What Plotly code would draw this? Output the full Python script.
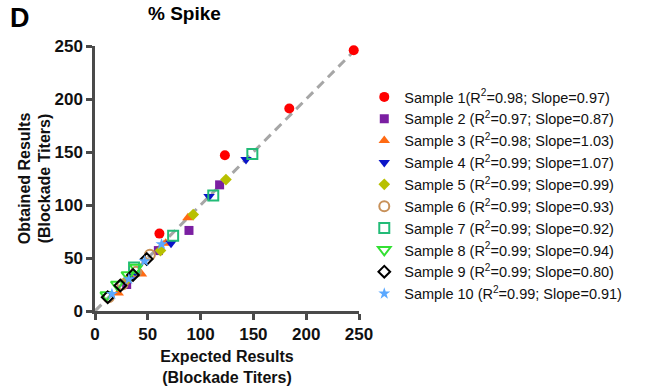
import plotly.graph_objects as go

names = ["Sample 1(R<sup>2</sup>=0.98; Slope=0.97)",
         "Sample 2 (R<sup>2</sup>=0.97; Slope=0.87)",
         "Sample 3 (R<sup>2</sup>=0.98; Slope=1.03)",
         "Sample 4 (R<sup>2</sup>=0.99; Slope=1.07)",
         "Sample 5 (R<sup>2</sup>=0.99; Slope=0.99)",
         "Sample 6 (R<sup>2</sup>=0.99; Slope=0.93)",
         "Sample 7 (R<sup>2</sup>=0.99; Slope=0.92)",
         "Sample 8 (R<sup>2</sup>=0.99; Slope=0.94)",
         "Sample 9 (R<sup>2</sup>=0.99; Slope=0.80)",
         "Sample 10 (R<sup>2</sup>=0.99; Slope=0.91)"]

s1_x = [245, 184, 123, 61];  s1_y = [246, 191, 147, 73]
s2_x = [118, 89, 60, 30];    s2_y = [119, 76, 57, 25]
s3_x = [88, 67, 44, 22];     s3_y = [88, 64, 35, 17]
s4_x = [143, 108, 72, 36];   s4_y = [143, 108, 64, 34]
s5_x = [124, 93, 62, 31];    s5_y = [124, 91, 57, 30]
s6_x = [52, 39, 26, 13];     s6_y = [53, 37, 25, 13]
s7_x = [149, 112, 74, 37];   s7_y = [148, 109, 71, 41]
s8_x = [39, 31, 21, 11];     s8_y = [41, 34, 25, 15]
s9_x = [49, 36, 24, 12];     s9_y = [49, 34, 24, 13]
s10_x = [63, 47, 32, 16];    s10_y = [63, 47, 30, 16]

identity_x = [0, 245]
identity_y = [0, 245]

xs = [s1_x, s2_x, s3_x, s4_x, s5_x, s6_x, s7_x, s8_x, s9_x, s10_x]
ys = [s1_y, s2_y, s3_y, s4_y, s5_y, s6_y, s7_y, s8_y, s9_y, s10_y]

styles = [
    dict(symbol="circle", color="#ff0000", size=10, line=dict(width=0)),
    dict(symbol="square", color="#7b1fa2", size=9, line=dict(width=0)),
    dict(symbol="triangle-up", color="#ff6a13", size=10, line=dict(width=0)),
    dict(symbol="triangle-down", color="#0a14c8", size=10, line=dict(width=0)),
    dict(symbol="diamond", color="#b8c000", size=9, line=dict(width=0)),
    dict(symbol="circle-open", color="#c8915a", size=10, line=dict(width=2, color="#c8915a")),
    dict(symbol="square-open", color="#22bb77", size=10, line=dict(width=2, color="#22bb77")),
    dict(symbol="triangle-down-open", color="#33e033", size=11, line=dict(width=2, color="#33e033")),
    dict(symbol="diamond-open", color="#000000", size=9, line=dict(width=2, color="#000000")),
    dict(symbol="star", color="#5aa8ff", size=9, line=dict(width=0)),
]

FONT = "Liberation Sans, Arial"

fig = go.Figure()
fig.add_trace(go.Scatter(x=identity_x, y=identity_y, mode="lines",
                         line=dict(color="#a6a6a6", width=3, dash="9px,6px"),
                         showlegend=False, hoverinfo="skip"))
for n, x, y, st in zip(names, xs, ys, styles):
    fig.add_trace(go.Scatter(x=x, y=y, mode="markers", name=n, marker=st, cliponaxis=False))

axis_common = dict(range=[0, 250], tickvals=[0, 50, 100, 150, 200, 250],
                   showgrid=False, zeroline=False, showline=True, linewidth=2.5,
                   linecolor="#4a4a4a", ticks="outside", ticklen=6, tickwidth=2.5,
                   tickcolor="#4a4a4a", automargin=False,
                   tickfont=dict(family=FONT, size=17, color="#111111", weight="bold"))

fig.update_layout(
    width=645, height=392,
    margin=dict(l=95, r=286, t=46, b=81, autoexpand=False),
    paper_bgcolor="white", plot_bgcolor="white",
    xaxis=dict(**axis_common,
               title=dict(text="<b>Expected Results<br>(Blockade Titers)</b>", standoff=8,
                          font=dict(family=FONT, size=16, color="#111111"))),
    yaxis=dict(**axis_common,
               title=dict(text="<b>Obtained Results<br>(Blockade Titers)</b>", standoff=0,
                          font=dict(family=FONT, size=16, color="#111111"))),
    legend=dict(x=1.02, y=0.868, xanchor="left", yanchor="top",
                font=dict(family=FONT, size=14.5, color="#111111"),
                itemwidth=30, tracegroupgap=0, bgcolor="rgba(0,0,0,0)"),
    showlegend=True,
)
fig.add_annotation(text="<b>D</b>", xref="paper", yref="paper", x=-0.33, y=1.17,
                   xanchor="left", yanchor="top", showarrow=False,
                   font=dict(family=FONT, size=27, color="#000000"))
fig.add_annotation(text="<b>% Spike</b>", xref="paper", yref="paper", x=0.34, y=1.17,
                   xanchor="center", yanchor="top", showarrow=False,
                   font=dict(family=FONT, size=19, color="#000000"))

fig.write_html("out.html")
